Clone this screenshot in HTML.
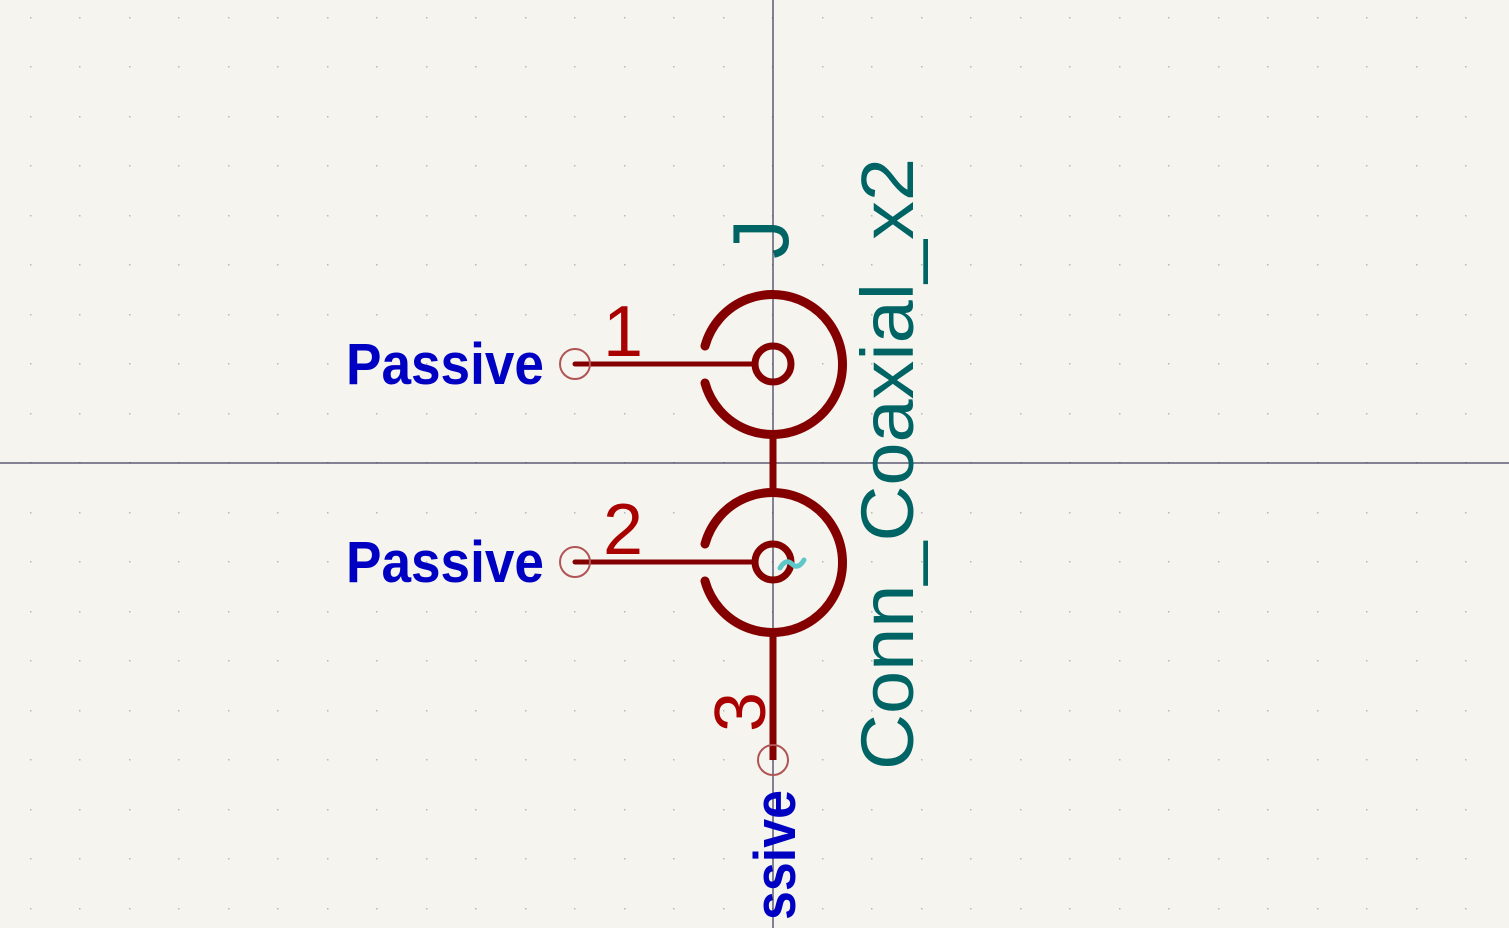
<!DOCTYPE html>
<html><head><meta charset="utf-8"><style>
html,body{margin:0;padding:0;background:#f5f4ef;width:1509px;height:928px;overflow:hidden;}
svg{display:block;overflow:hidden;}
text{font-family:"Liberation Sans",sans-serif;}
</style></head><body>
<svg width="1509" height="928" viewBox="0 0 1509 928" xmlns="http://www.w3.org/2000/svg">
<rect width="1509" height="928" fill="#f5f4ef"/>
<g id="grid"></g>
<line x1="773" y1="0" x2="773" y2="928" stroke="#10103a" stroke-width="1"/>
<line x1="0" y1="463" x2="1509" y2="463" stroke="#10103a" stroke-width="1"/>
<g fill="none" stroke="#840000" stroke-linecap="round">
  <path d="M705,346 A70,70 0 1 1 705,383" stroke-width="9"/>
  <circle cx="773" cy="364" r="18" stroke-width="7"/>
  <path d="M705,544 A70,70 0 1 1 705,581" stroke-width="9"/>
  <circle cx="773" cy="562" r="18" stroke-width="7"/>
  <line x1="773" y1="434" x2="773" y2="492" stroke-width="7" stroke-linecap="butt"/>
  <line x1="773" y1="632" x2="773" y2="760" stroke-width="7" stroke-linecap="butt"/>
  <line x1="575" y1="364" x2="753" y2="364" stroke-width="5"/>
  <line x1="575" y1="562" x2="753" y2="562" stroke-width="5"/>
</g>
<path d="M780,568 Q786,558 792,564 T804,560" fill="none" stroke="#5ec8c8" stroke-width="5" stroke-linecap="round"/>
<circle cx="575" cy="364" r="15" fill="none" stroke="#b05555" stroke-width="2"/>
<circle cx="575" cy="562" r="15" fill="none" stroke="#b05555" stroke-width="2"/>
<circle cx="773" cy="760" r="15" fill="none" stroke="#b05555" stroke-width="2"/>
<text x="623" y="356" font-size="72" text-anchor="middle" fill="#a90000">1</text>
<text x="623" y="554" font-size="72" text-anchor="middle" fill="#a90000">2</text>
<text x="765" y="712" font-size="72" text-anchor="middle" fill="#a90000" transform="rotate(-90 765 712)">3</text>
<text x="346" y="384" font-size="58" font-weight="bold" fill="#0000c2" textLength="198" lengthAdjust="spacingAndGlyphs">Passive</text>
<text x="346" y="582" font-size="58" font-weight="bold" fill="#0000c2" textLength="198" lengthAdjust="spacingAndGlyphs">Passive</text>
<text x="795" y="920" font-size="58" font-weight="bold" fill="#0000c2" textLength="130" lengthAdjust="spacingAndGlyphs" transform="rotate(-90 795 920)">ssive</text>
<text x="788" y="239" font-size="80" text-anchor="middle" fill="#006464" transform="rotate(-90 788 239)">J</text>
<text x="913" y="770" font-size="74" fill="#006464" textLength="612" lengthAdjust="spacingAndGlyphs" transform="rotate(-90 913 770)">Conn_Coaxial_x2</text>
</svg>
<script>
var g=document.getElementById('grid');
for(var x=773-15*49.5;x<1509;x+=49.5){for(var y=463-9*49.5;y<928;y+=49.5){
var r=document.createElementNS('http://www.w3.org/2000/svg','rect');
r.setAttribute('x',Math.round(x)-1);r.setAttribute('y',Math.round(y)-1);
r.setAttribute('width',1.5);r.setAttribute('height',1.5);r.setAttribute('fill','#b8b8b8');


g.appendChild(r);}}
</script>
</body></html>
